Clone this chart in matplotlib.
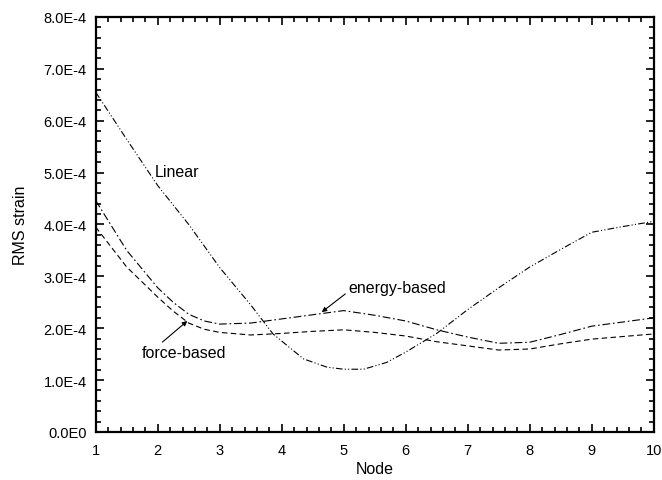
import numpy as np
import matplotlib
matplotlib.use("Agg")
import matplotlib.pyplot as plt
from matplotlib.ticker import MultipleLocator, FixedLocator, FixedFormatter

# RMS strain, units of 1E-4
linear_x = [1, 1.5, 2, 2.5, 3, 3.5, 3.86, 4.35, 4.73, 5, 5.32, 5.69, 6, 6.5, 7, 7.5, 8, 8.5, 9, 9.5, 10]
linear = [6.55, 5.64, 4.75, 4.00, 3.17, 2.45, 1.89, 1.41, 1.25, 1.21, 1.21, 1.34, 1.54, 1.90, 2.36, 2.78, 3.18, 3.52, 3.85, 3.96, 4.06]

based_x = [1, 1.5, 2, 2.25, 2.5, 2.75, 3, 3.5, 4, 4.5, 5, 5.5, 6, 6.5, 7, 7.5, 8, 8.5, 9, 9.5, 10]
energy = [4.46, 3.50, 2.78, 2.50, 2.27, 2.14, 2.08, 2.10, 2.18, 2.26, 2.34, 2.25, 2.14, 1.97, 1.83, 1.71, 1.73, 1.88, 2.04, 2.12, 2.20]
force = [3.95, 3.18, 2.60, 2.33, 2.10, 1.98, 1.92, 1.87, 1.90, 1.94, 1.97, 1.92, 1.85, 1.74, 1.66, 1.58, 1.60, 1.70, 1.79, 1.84, 1.89]

ytick_vals = [0, 1e-4, 2e-4, 3e-4, 4e-4, 5e-4, 6e-4, 7e-4, 8e-4]
ytick_labels = ["0.0E0", "1.0E-4", "2.0E-4", "3.0E-4", "4.0E-4", "5.0E-4", "6.0E-4", "7.0E-4", "8.0E-4"]

plt.rcParams['font.family'] = ['Liberation Sans', 'DejaVu Sans']

fig = plt.figure(figsize=(6.62, 4.81), dpi=100)
ax = fig.add_axes([0.1446, 0.0998, 0.8429, 0.8628])

ax.plot(linear_x, np.array(linear) * 1e-4, c='k', lw=0.8, dashes=[6, 2, 1, 2, 1, 2])
ax.plot(based_x, np.array(energy) * 1e-4, c='k', lw=0.8, dashes=[7, 2.5, 1.5, 2.5])
ax.plot(based_x, np.array(force) * 1e-4, c='k', lw=0.8, dashes=[5, 3])

ax.set_xlim(1, 10)
ax.set_ylim(0, 8e-4)
ax.xaxis.set_major_locator(MultipleLocator(1))
ax.xaxis.set_minor_locator(MultipleLocator(0.2))
ax.yaxis.set_major_locator(FixedLocator(ytick_vals))
ax.yaxis.set_major_formatter(FixedFormatter(ytick_labels))
ax.yaxis.set_minor_locator(MultipleLocator(0.2e-4))

ax.tick_params(which='both', direction='in', top=True, right=True, width=1.2, labelsize=10.5)
ax.tick_params(which='major', length=6)
ax.tick_params(which='minor', length=3.5)
ax.tick_params(axis='x', which='major', pad=8)
ax.tick_params(axis='y', which='major', pad=6.5)
for s in ax.spines.values():
    s.set_linewidth(1.6)

ax.set_xlabel("Node", fontsize=11.5)
ax.set_ylabel("RMS strain", fontsize=11.5)
ax.xaxis.set_label_coords(0.5, -0.07)
ax.yaxis.set_label_coords(-0.121, 0.5)

ax.text(1.945, 5.02e-4, "Linear", fontsize=11.5, va='center', ha='left')
ax.annotate("energy-based", xy=(4.645, 2.31e-4), xytext=(5.07, 2.79e-4), fontsize=11.5,
            va='center', ha='left',
            arrowprops=dict(arrowstyle='-|>', color='k', lw=0.8, mutation_scale=7, shrinkA=0, shrinkB=0,
                            relpos=(0, 0.2)))
ax.annotate("force-based", xy=(2.477, 2.14e-4), xytext=(1.75, 1.535e-4), fontsize=11.5,
            va='center', ha='left',
            arrowprops=dict(arrowstyle='-|>', color='k', lw=0.8, mutation_scale=7, shrinkA=0, shrinkB=0,
                            relpos=(0.2, 1.0)))

fig.savefig("out.png", dpi=100)
